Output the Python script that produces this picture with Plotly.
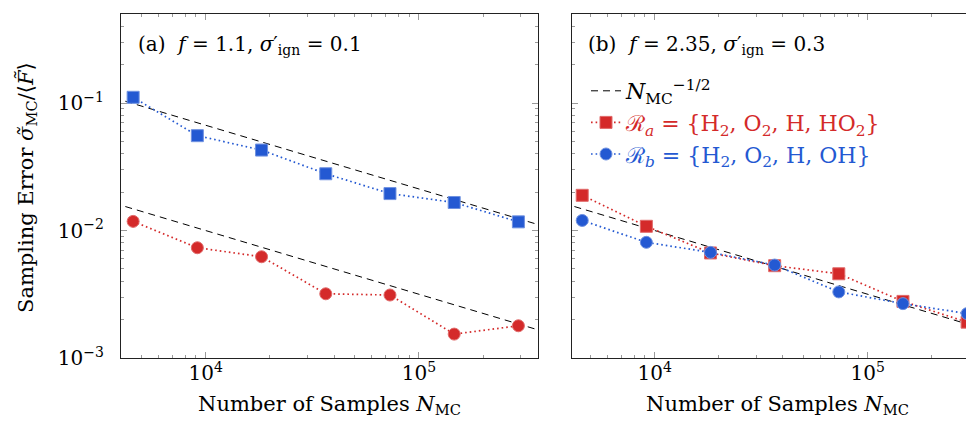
import plotly.graph_objects as go

# ---------------- data ----------------
n_samples = [4570, 9140, 18280, 36560, 73120, 146250, 292500]

# panel (a)
a_blue_sq = [0.111, 0.0555, 0.0428, 0.0279, 0.0195, 0.0166, 0.0117]
a_red_ci = [0.0118, 0.00733, 0.00623, 0.00319, 0.00312, 0.00154, 0.00179]

# panel (b)
b_red_sq = [0.0189, 0.0108, 0.00667, 0.00530, 0.00458, 0.00278, 0.00191]
b_blue_ci = [0.0120, 0.00808, 0.00674, 0.00536, 0.00330, 0.00267, 0.00223]

# reference N^-1/2 lines
ref_n = [4200, 400000]
ref_coef_a_upper = 6.7
ref_coef_a_lower = 1.0
ref_coef_b = 1.0

x_major = [1e4, 1e5]
x_major_text = ["10<sup>4</sup>", "10<sup>5</sup>"]
y_major = [1e-3, 1e-2, 1e-1]
y_major_text = ["10<sup>−3</sup>", "10<sup>−2</sup>", "10<sup>−1</sup>"]

# ---------------- style ----------------
RED = "#d42a2a"
BLUE = "#2459d2"
RED_EDGE = "#e06a6a"
BLUE_EDGE = "#6f91e0"
FONT = "DejaVu Serif"
FS = 20
W, H = 974, 425

x_minor = [v * m for v in (1e3, 1e4, 1e5) for m in range(2, 10)]
y_minor = [v * m for v in (1e-3, 1e-2, 1e-1) for m in range(2, 10)]


def ref(coef):
    return [coef / n ** 0.5 for n in ref_n]


fig = go.Figure()

dash_line = dict(color="black", width=1, dash="7px,5px")
dot = "1.6px,3px"

# panel (a)
fig.add_trace(go.Scatter(x=ref_n, y=ref(ref_coef_a_upper), mode="lines", line=dash_line,
                         showlegend=False, xaxis="x", yaxis="y"))
fig.add_trace(go.Scatter(x=ref_n, y=ref(ref_coef_a_lower), mode="lines", line=dash_line,
                         showlegend=False, xaxis="x", yaxis="y"))
fig.add_trace(go.Scatter(x=n_samples, y=a_blue_sq, mode="lines+markers",
                         line=dict(color=BLUE, width=1.7, dash=dot),
                         marker=dict(symbol="square", size=12, color=BLUE,
                                     line=dict(color=BLUE_EDGE, width=1)),
                         showlegend=False, xaxis="x", yaxis="y"))
fig.add_trace(go.Scatter(x=n_samples, y=a_red_ci, mode="lines+markers",
                         line=dict(color=RED, width=1.7, dash=dot),
                         marker=dict(symbol="circle", size=12, color=RED,
                                     line=dict(color=RED_EDGE, width=1)),
                         showlegend=False, xaxis="x", yaxis="y"))

# panel (b)
fig.add_trace(go.Scatter(x=ref_n, y=ref(ref_coef_b), mode="lines", line=dash_line,
                         name="<i>N</i><sub>MC</sub><sup>−1/2</sup>",
                         xaxis="x2", yaxis="y2"))
fig.add_trace(go.Scatter(x=n_samples, y=b_red_sq, mode="lines+markers",
                         line=dict(color=RED, width=1.7, dash=dot),
                         marker=dict(symbol="square", size=12, color=RED,
                                     line=dict(color=RED_EDGE, width=1)),
                         name=f'<span style="color:{RED}">ℛ<sub><i>a</i></sub> = {{H<sub>2</sub>, O<sub>2</sub>, H, HO<sub>2</sub>}}</span>',
                         xaxis="x2", yaxis="y2"))
fig.add_trace(go.Scatter(x=n_samples, y=b_blue_ci, mode="lines+markers",
                         line=dict(color=BLUE, width=1.7, dash=dot),
                         marker=dict(symbol="circle", size=12, color=BLUE,
                                     line=dict(color=BLUE_EDGE, width=1)),
                         name=f'<span style="color:{BLUE}">ℛ<sub><i>b</i></sub> = {{H<sub>2</sub>, O<sub>2</sub>, H, OH}}</span>',
                         xaxis="x2", yaxis="y2"))

common_axis = dict(
    type="log", showline=True, linecolor="#222222", linewidth=1.3, mirror="ticks",
    ticks="inside", ticklen=6, tickwidth=1, tickcolor="#9a9a9a",
    showgrid=False, zeroline=False, automargin=False,
    tickfont=dict(family=FONT, size=FS, color="black"),
)
minor_ticks = dict(ticks="inside", ticklen=3, tickcolor="#9a9a9a", showgrid=False)

y_top = 1 - 6 / H
y_bot = 1 - 350 / H

fig.update_layout(
    width=W, height=H, autosize=False,
    margin=dict(l=0, r=0, t=0, b=0),
    paper_bgcolor="white", plot_bgcolor="white",
    font=dict(family=FONT, size=FS, color="black"),
    xaxis=dict(common_axis, domain=[113 / W, 530 / W], range=[3.603, 5.558],
               tickmode="array", tickvals=x_major, ticktext=x_major_text,
               ticklabelstandoff=-3,
               minor=dict(minor_ticks, tickmode="array", tickvals=x_minor),
               anchor="y"),
    yaxis=dict(common_axis, domain=[y_bot, y_top], range=[-3, -0.301],
               tickmode="array", tickvals=y_major, ticktext=y_major_text,
               ticklabelstandoff=12,
               minor=dict(minor_ticks, tickmode="array", tickvals=y_minor),
               anchor="x"),
    xaxis2=dict(common_axis, domain=[564 / W, 1.0], range=[3.612, 5.536],
                tickmode="array", tickvals=x_major, ticktext=x_major_text,
                ticklabelstandoff=-3,
                minor=dict(minor_ticks, tickmode="array", tickvals=x_minor),
                anchor="y2"),
    yaxis2=dict(common_axis, domain=[y_bot, y_top], range=[-3, -0.301],
                tickmode="array", tickvals=y_major, ticktext=y_major_text,
                showticklabels=False,
                minor=dict(minor_ticks, tickmode="array", tickvals=y_minor),
                anchor="x2"),
    legend=dict(x=578 / W, y=1 - 62 / H, xanchor="left", yanchor="top",
                bgcolor="rgba(0,0,0,0)", borderwidth=0,
                font=dict(family=FONT, size=22), tracegroupgap=0),
    annotations=[
        dict(text="(a)  <i>f</i> = 1.1, <i>σ</i>′<sub>ign</sub> = 0.1", x=128 / W, y=1 - 37 / H,
             xref="paper", yref="paper", xanchor="left", yanchor="middle", showarrow=False,
             font=dict(family=FONT, size=FS)),
        dict(text="(b)  <i>f</i> = 2.35, <i>σ</i>′<sub>ign</sub> = 0.3", x=578 / W, y=1 - 37 / H,
             xref="paper", yref="paper", xanchor="left", yanchor="middle", showarrow=False,
             font=dict(family=FONT, size=FS)),
        dict(text="Number of Samples <i>N</i><sub>MC</sub>", x=321 / W, y=1 - 397 / H,
             xref="paper", yref="paper", xanchor="center", yanchor="middle", showarrow=False,
             font=dict(family=FONT, size=21)),
        dict(text="Number of Samples <i>N</i><sub>MC</sub>", x=769 / W, y=1 - 397 / H,
             xref="paper", yref="paper", xanchor="center", yanchor="middle", showarrow=False,
             font=dict(family=FONT, size=21)),
        dict(text="Sampling Error <i>σ̃</i><sub>MC</sub>/⟨<i>F̃</i>⟩", x=19 / W, y=1 - 180 / H,
             xref="paper", yref="paper", xanchor="center", yanchor="middle", showarrow=False,
             textangle=-90, font=dict(family=FONT, size=21)),
    ],
)

fig.write_html("out.html")
